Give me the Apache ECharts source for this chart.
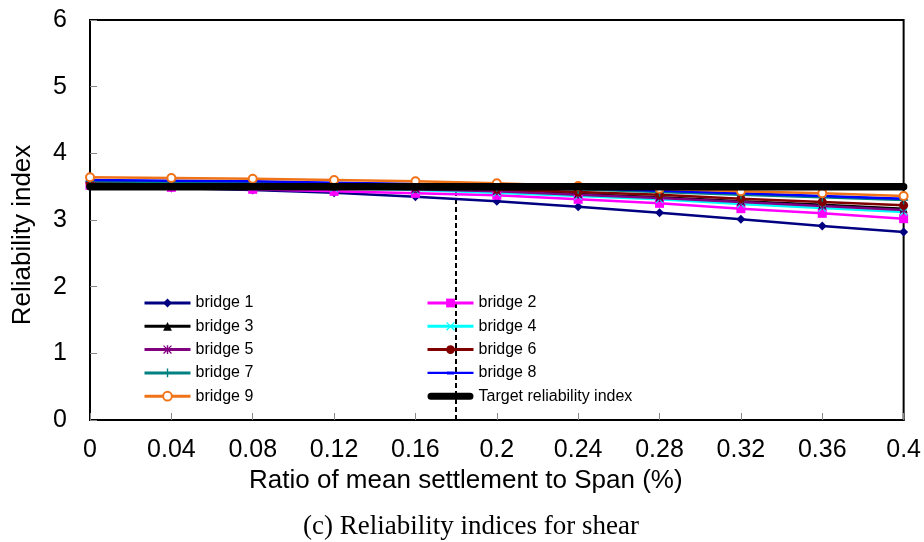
<!DOCTYPE html>
<html>
<head>
<meta charset="utf-8">
<script src="https://cdn.jsdelivr.net/npm/echarts@6/dist/echarts.min.js"></script>
<style>
  html, body { margin: 0; padding: 0; background: #fff; }
  #chart { width: 924px; height: 542px; }
</style>
</head>
<body>
<div id="chart"></div>
<script>
// ---- data ----
const xValues = [0, 0.04, 0.08, 0.12, 0.16, 0.2, 0.24, 0.28, 0.32, 0.36, 0.4];
const bridge1 = [3.50, 3.48, 3.45, 3.41, 3.35, 3.28, 3.20, 3.11, 3.01, 2.91, 2.82];
const bridge2 = [3.52, 3.49, 3.46, 3.43, 3.40, 3.37, 3.31, 3.25, 3.17, 3.10, 3.02];
const bridge3 = [3.55, 3.54, 3.52, 3.50, 3.47, 3.44, 3.39, 3.34, 3.28, 3.23, 3.17];
const bridge4 = [3.53, 3.52, 3.50, 3.48, 3.45, 3.41, 3.36, 3.31, 3.24, 3.18, 3.12];
const bridge5 = [3.54, 3.53, 3.51, 3.49, 3.46, 3.43, 3.38, 3.33, 3.27, 3.21, 3.15];
const bridge6 = [3.56, 3.55, 3.54, 3.52, 3.50, 3.46, 3.42, 3.38, 3.32, 3.27, 3.22];
const bridge7 = [3.58, 3.57, 3.56, 3.54, 3.52, 3.49, 3.46, 3.42, 3.38, 3.34, 3.30];
const bridge8 = [3.60, 3.59, 3.58, 3.56, 3.54, 3.51, 3.48, 3.44, 3.40, 3.36, 3.32];
const bridge9 = [3.64, 3.63, 3.62, 3.60, 3.58, 3.55, 3.51, 3.47, 3.43, 3.40, 3.36];
const targetIndex = 3.5;
const settlementLimit = 0.18;
const yTicks = [0, 1, 2, 3, 4, 5, 6];

const seriesNames = ['bridge 1','bridge 2','bridge 3','bridge 4','bridge 5','bridge 6','bridge 7','bridge 8','bridge 9'];
const targetName = 'Target reliability index';
const xTitle = 'Ratio of mean settlement to Span (%)';
const yTitle = 'Reliability index';
const caption = '(c) Reliability indices for shear';

// ---- styles ----
const X_SYM = 'path://M0,1 L1,0 L5,4 L9,0 L10,1 L6,5 L10,9 L9,10 L5,6 L1,10 L0,9 L4,5 Z';
const STAR_SYM = 'path://M0,1 L1,0 L5,4 L9,0 L10,1 L6,5 L10,9 L9,10 L5,6 L1,10 L0,9 L4,5 Z M4.2,0 H5.8 V10 H4.2 Z';
const PLUS_SYM = 'path://M4.2,0 H5.8 V4.2 H10 V5.8 H5.8 V10 H4.2 V5.8 H0 V4.2 H4.2 Z';
const styles = [
  { color: '#000080', symbol: 'diamond', size: 9 },
  { color: '#FF00FF', symbol: 'rect', size: 9 },
  { color: '#000000', symbol: 'triangle', size: 8 },
  { color: '#00FFFF', symbol: X_SYM, size: 8 },
  { color: '#800080', symbol: STAR_SYM, size: 8 },
  { color: '#800000', symbol: 'circle', size: 9 },
  { color: '#008080', symbol: PLUS_SYM, size: 9 },
  { color: '#0000FF', symbol: 'rect', size: [7, 3] },
  { color: '#F07318', symbol: 'emptyCircle', size: 8 }
];
const allData = [bridge1, bridge2, bridge3, bridge4, bridge5, bridge6, bridge7, bridge8, bridge9];

const FONT = 'Liberation Sans, Arial, sans-serif';

const series = allData.map((vals, i) => ({
  name: seriesNames[i],
  type: 'line',
  data: xValues.map((x, j) => [x, vals[j]]),
  symbol: styles[i].symbol,
  symbolSize: styles[i].size,
  showAllSymbol: true,
  lineStyle: { color: styles[i].color, width: 2.5 },
  itemStyle: { color: styles[i].color, borderColor: styles[i].color, borderWidth: styles[i].symbol === 'emptyCircle' ? 2 : 0 },
  emphasis: { disabled: true },
  z: 2
}));

series.push({
  name: targetName,
  type: 'line',
  data: [[xValues[0], targetIndex], [xValues[xValues.length - 1], targetIndex]],
  symbol: 'none',
  lineStyle: { color: '#000', width: 7.5, cap: 'round' },
  itemStyle: { color: '#000' },
  emphasis: { disabled: true },
  z: 3,
  markLine: {
    silent: true,
    symbol: 'none',
    label: { show: false },
    lineStyle: { color: '#000', width: 2, type: [5, 3] },
    data: [[{ coord: [settlementLimit, 0] }, { coord: [settlementLimit, targetIndex] }]],
    z: 1
  }
});

const legendCommon = {
  orient: 'vertical',
  top: 290,
  itemWidth: 46,
  itemHeight: 11,
  itemGap: 7.3,
  textStyle: { fontFamily: FONT, fontSize: 16, color: '#000' },
  lineStyle: { width: 3 },
  selectedMode: false
};

const BRIDGE8_ICON = 'path://M0,3.8 H46 V6.2 H0 Z M19.5,3.5 H26.5 V6.5 H19.5 Z M0,0 H0.01 V10 H0 Z';
const TARGET_ICON = 'path://M3.5,1.5 H42.5 A3.5,3.5 0 0 1 42.5,8.5 H3.5 A3.5,3.5 0 0 1 3.5,1.5 Z M0,0 H0.01 V10 H0 Z';

const chart = echarts.init(document.getElementById('chart'), null, { renderer: 'canvas' });
chart.setOption({
  backgroundColor: '#fff',
  animation: false,
  title: {
    text: caption,
    left: 466,
    textAlign: 'center',
    top: 508,
    textStyle: { fontFamily: 'Liberation Serif, Times New Roman, serif', fontSize: 27, fontWeight: 'normal', color: '#000' }
  },
  grid: {
    left: 90, right: 20, top: 20, bottom: 122,
    show: true, borderColor: '#000', borderWidth: 2, backgroundColor: 'transparent'
  },
  legend: [
    Object.assign({ left: 138, data: ['bridge 1','bridge 3','bridge 5','bridge 7','bridge 9'] }, legendCommon),
    Object.assign({ left: 421, data: ['bridge 2','bridge 4','bridge 6',
      { name: 'bridge 8', icon: BRIDGE8_ICON, itemStyle: { color: '#0000FF' } },
      { name: targetName, icon: TARGET_ICON, itemStyle: { color: '#000' } }] }, legendCommon)
  ],
  xAxis: {
    type: 'value',
    min: xValues[0],
    max: xValues[xValues.length - 1],
    interval: 0.04,
    name: xTitle,
    nameLocation: 'middle',
    nameGap: 46,
    nameTextStyle: { fontFamily: FONT, fontSize: 26, color: '#000', padding: [0, 62, 0, 0] },
    axisLine: { show: true, lineStyle: { color: '#000', width: 2 } },
    axisTick: { show: true, inside: true, length: 7, lineStyle: { color: '#888', width: 1 } },
    axisLabel: { fontFamily: FONT, fontSize: 25, color: '#000', margin: 18, showMaxLabel: true, showMinLabel: true },
    splitLine: { show: false }
  },
  yAxis: {
    type: 'value',
    min: yTicks[0],
    max: yTicks[yTicks.length - 1],
    interval: 1,
    name: yTitle,
    nameLocation: 'middle',
    nameGap: 54,
    nameTextStyle: { fontFamily: FONT, fontSize: 26, color: '#000', padding: [0, 30, 0, 0] },
    axisLine: { show: true, lineStyle: { color: '#000', width: 2 } },
    axisTick: { show: true, inside: true, length: 7, lineStyle: { color: '#888', width: 1 } },
    axisLabel: { fontFamily: FONT, fontSize: 25, color: '#000', margin: 23 },
    splitLine: { show: false }
  },
  series: series
});
</script>
</body>
</html>
